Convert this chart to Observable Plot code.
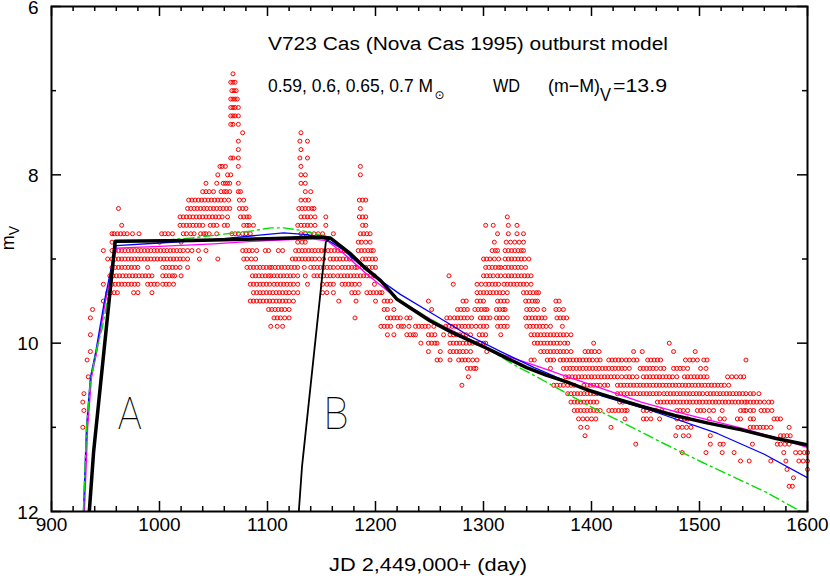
<!DOCTYPE html>
<html><head><meta charset="utf-8">
<script src="https://cdn.jsdelivr.net/npm/d3@7"></script>
<script src="https://cdn.jsdelivr.net/npm/@observablehq/plot@0.6"></script>
<style>body{margin:0;background:#fff}</style>
</head><body><div id="chart"></div>
<script>
// ---- observations: magnitude rows (0.1 mag bins) and the JD-2449000 of each point in that row ----
const obsMag = [6.8,6.9,7.0,7.1,7.2,7.3,7.4,7.5,7.6,7.7,7.8,7.9,8.0,8.1,8.2,8.3,8.4,8.5,8.6,8.7,8.8,8.9,9.0,9.1,9.2,9.3,9.4,9.5,9.6,9.7,9.8,9.9,10.0,10.1,10.2,10.3,10.4,10.5,10.6,10.7,10.8,10.9,11.0,11.1,11.2,11.3,11.4,11.5,11.6,11.7];
const obsJD = [
 [1068],
 [1066,1068,1070],
 [1067,1069,1071],
 [1066,1068,1070,1072],
 [1066,1068,1070,1073],
 [1066,1068,1070,1073],
 [1066,1068,1073],
 [1077,1131],
 [1073,1130,1137],
 [1073,1131],
 [1066,1068,1073,1130,1137],
 [1056,1058,1061,1073,1131,1186],
 [1054,1063,1066,1131,1135,1186],
 [1043,1053,1059,1061,1063,1065,1073,1131,1135],
 [1040,1043,1046,1050,1057,1060,1062,1065,1073,1075,1135,1140],
 [1027,1030,1033,1036,1039,1042,1045,1048,1051,1054,1057,1060,1064,1074,1078,1131,1135,1138,1185,1188,1191],
 [962,1026,1029,1032,1035,1038,1041,1044,1047,1050,1053,1056,1059,1062,1065,1074,1077,1080,1129,1132,1135,1138,1141,1143,1186],
 [1019,1022,1025,1028,1031,1034,1037,1040,1043,1046,1049,1052,1055,1058,1063,1075,1078,1081,1083,1131,1134,1137,1140,1144,1154,1185,1188,1191,1322],
 [965,1019,1022,1025,1028,1031,1034,1037,1040,1047,1050,1053,1060,1063,1078,1081,1083,1087,1128,1131,1134,1137,1140,1144,1154,1188,1191,1302,1309,1323,1331],
 [956,958,961,964,967,970,975,981,1002,1005,1008,1012,1022,1025,1029,1032,1038,1041,1043,1046,1053,1067,1070,1073,1077,1080,1084,1131,1135,1139,1143,1147,1151,1161,1186,1189,1192,1195,1313,1323,1331,1337],
 [956,1000,1020,1128,1132,1135,1184,1187,1191,1195,1310,1321,1325,1329,1333,1337],
 [948,956,959,962,965,968,971,974,977,980,983,986,989,992,995,998,1001,1004,1007,1010,1013,1016,1019,1022,1026,1030,1036,1043,1077,1080,1083,1086,1090,1098,1101,1110,1114,1126,1129,1132,1135,1138,1141,1144,1147,1150,1153,1156,1159,1162,1165,1168,1171,1184,1187,1190,1193,1196,1198,1308,1311,1313,1320,1323,1326,1329,1332,1335,1337],
 [952,956,959,962,965,968,971,974,977,980,983,986,989,992,995,998,1001,1004,1007,1010,1013,1016,1019,1022,1026,1037,1054,1078,1081,1085,1089,1123,1126,1129,1132,1135,1138,1141,1144,1148,1152,1158,1161,1164,1167,1170,1173,1176,1180,1188,1191,1194,1197,1200,1300,1303,1306,1310,1314,1320,1323,1326,1329,1332,1335,1338,1342],
 [956,959,962,965,968,971,974,977,980,989,1003,1006,1009,1012,1015,1019,1026,1081,1084,1087,1090,1093,1096,1099,1102,1104,1107,1110,1113,1116,1119,1122,1125,1128,1134,1140,1143,1146,1149,1152,1155,1158,1161,1165,1169,1172,1175,1178,1181,1183,1188,1191,1194,1197,1200,1302,1305,1308,1311,1314,1316,1320,1323,1326,1329,1332,1335,1339],
 [954,957,960,963,966,969,972,975,978,981,984,987,990,993,1003,1006,1009,1012,1014,1020,1086,1089,1092,1095,1098,1101,1103,1106,1109,1112,1115,1118,1121,1124,1128,1135,1143,1146,1149,1152,1155,1158,1161,1165,1168,1171,1174,1177,1180,1183,1186,1189,1192,1195,1199,1268,1300,1303,1306,1309,1313,1316,1320,1323,1326,1329,1332,1335,1338,1341,1344],
 [948,956,959,962,965,968,971,974,977,980,989,992,995,998,1003,1006,1009,1013,1084,1087,1090,1093,1096,1099,1102,1106,1109,1112,1115,1118,1121,1124,1128,1137,1151,1155,1158,1161,1169,1172,1175,1178,1181,1185,1199,1272,1294,1298,1302,1305,1308,1311,1314,1319,1322,1325,1328,1331,1334,1337,1340,1344],
 [952,955,958,961,976,980,993,1087,1090,1093,1096,1099,1102,1105,1108,1111,1114,1117,1120,1124,1128,1151,1155,1161,1178,1181,1184,1192,1195,1198,1201,1204,1206,1294,1297,1300,1303,1306,1309,1312,1315,1318,1322,1337,1340,1343,1346,1349,1351],
 [948,1084,1087,1090,1093,1096,1099,1102,1105,1108,1111,1114,1117,1120,1124,1166,1182,1200,1208,1211,1214,1249,1281,1284,1294,1297,1300,1313,1316,1319,1322,1339,1342,1345,1348,1350,1367,1370],
 [938,1101,1104,1107,1110,1113,1116,1120,1208,1211,1217,1252,1276,1279,1282,1285,1292,1295,1298,1301,1303,1312,1315,1318,1320,1340,1343,1346,1350,1356,1367,1370,1374],
 [936,1106,1109,1112,1116,1120,1181,1211,1214,1217,1220,1223,1229,1232,1266,1269,1273,1276,1279,1282,1285,1289,1297,1300,1303,1306,1312,1315,1318,1322,1339,1342,1345,1348,1351,1354,1357,1368,1371,1374,1377],
 [1103,1109,1114,1205,1208,1211,1214,1221,1224,1226,1231,1237,1240,1243,1246,1249,1254,1265,1268,1271,1274,1277,1280,1283,1286,1289,1293,1297,1300,1303,1313,1316,1319,1322,1340,1343,1346,1349,1352,1355,1358,1362,1373],
 [936,1211,1217,1229,1232,1235,1237,1249,1252,1255,1263,1269,1272,1275,1278,1281,1284,1288,1296,1299,1302,1316,1344,1347,1350,1353,1356,1359,1362,1365,1368,1371,1374,1377,1381],
 [1242,1249,1252,1255,1257,1269,1272,1275,1278,1281,1284,1287,1290,1294,1297,1300,1302,1347,1350,1353,1356,1359,1362,1365,1368,1371,1375,1378,1402,1472],
 [936,1249,1260,1269,1272,1275,1278,1281,1284,1288,1303,1353,1356,1359,1362,1365,1368,1371,1374,1377,1381,1394,1397,1400,1403,1407,1439,1447,1476,1496],
 [933,1257,1260,1269,1277,1280,1283,1286,1290,1294,1344,1347,1359,1362,1365,1371,1374,1377,1380,1383,1386,1389,1392,1395,1398,1401,1405,1408,1416,1419,1422,1425,1428,1432,1435,1439,1442,1452,1455,1458,1461,1464,1487,1491,1494,1498,1504,1507,1543],
 [1285,1288,1291,1293,1362,1374,1377,1380,1383,1386,1389,1392,1395,1398,1401,1404,1407,1410,1413,1416,1419,1422,1425,1428,1431,1435,1445,1448,1451,1454,1457,1460,1464,1467,1476,1479,1482,1485,1489,1501,1506],
 [934,1286,1376,1379,1382,1385,1388,1391,1394,1397,1400,1403,1406,1409,1412,1415,1418,1421,1424,1428,1432,1435,1438,1442,1448,1451,1454,1457,1460,1463,1466,1469,1472,1475,1479,1486,1489,1492,1495,1498,1501,1504,1507,1526,1530,1534,1538,1541],
 [1280,1365,1368,1371,1374,1378,1381,1384,1393,1396,1399,1402,1405,1408,1412,1415,1424,1427,1430,1433,1436,1439,1442,1445,1448,1451,1454,1457,1460,1463,1466,1469,1472,1475,1478,1481,1484,1487,1490,1493,1496,1499,1502,1505,1508,1511,1514,1517,1520,1523,1527],
 [930,1378,1381,1384,1387,1390,1393,1396,1399,1402,1405,1424,1427,1430,1433,1436,1439,1442,1445,1448,1451,1454,1457,1460,1463,1467,1470,1473,1476,1479,1482,1485,1488,1491,1494,1497,1500,1503,1507,1510,1513,1516,1519,1522,1525,1528,1531,1534,1537,1540,1543,1547,1550,1555],
 [929,1381,1384,1387,1390,1393,1396,1399,1402,1405,1426,1429,1461,1464,1467,1470,1473,1476,1479,1482,1485,1488,1491,1494,1497,1500,1503,1506,1509,1512,1515,1518,1521,1524,1527,1530,1533,1536,1539,1542,1544,1547,1550,1553,1556,1560,1564,1567],
 [930,1384,1387,1390,1393,1396,1399,1402,1405,1408,1416,1419,1422,1425,1428,1431,1433,1448,1451,1455,1460,1465,1479,1482,1485,1489,1498,1501,1504,1509,1513,1521,1538,1541,1543,1547,1550,1557,1560,1563,1567],
 [1388,1392,1396,1400,1404,1431,1448,1451,1455,1463,1479,1483,1486,1489,1509,1519,1523,1535,1538,1547,1550,1569,1572,1575],
 [929,1390,1396,1418,1480,1484,1488,1492,1547,1550,1553,1556,1559,1562,1566,1583],
 [1394,1478,1485,1490,1510,1575,1578,1581,1584],
 [1441,1510,1519,1522,1549,1572,1575,1579,1583],
 [1484,1506,1521,1532,1578,1589,1593,1597,1600],
 [1538,1546,1566,1580,1592,1596,1600],
 [1581,1600],
 [1587],
 [1583,1586]
];

// ---- model light curves (JD-2449000, V magnitude) ----
const modelA_JD = [935,939,959,1030,1100,1150,1158,1177,1190,1205,1220,1232,1250,1269,1286,1303,1322,1340,1358,1377,1395,1415,1446,1477,1508,1539,1570,1600];
const modelA_m  = [12.0,11.29,8.79,8.78,8.76,8.74,8.75,8.94,9.10,9.26,9.48,9.58,9.73,9.86,9.96,10.06,10.18,10.29,10.38,10.46,10.55,10.63,10.75,10.86,10.95,11.03,11.13,11.21];
const modelB_JD = [1129,1132,1154,1158];
const modelB_m  = [12.0,11.46,8.80,8.75];
const blue_JD = [929.6,932.4,936,941,949,956,960,1000,1050,1090,1115,1137,1155,1170,1192,1223,1254,1285,1316,1347,1378,1410,1455,1516,1560,1600];
const blue_m  = [12.0,11.0,10.41,10.1,9.5,9.06,8.84,8.81,8.77,8.72,8.69,8.71,8.77,8.89,9.14,9.42,9.66,9.90,10.10,10.29,10.46,10.63,10.80,11.07,11.32,11.6];
const magenta_JD = [930.5,933.5,937,942,950,957,960,1000,1050,1100,1140,1155,1171,1192,1223,1254,1285,1316,1347,1378,1408,1446,1477,1508,1539,1570,1600];
const magenta_m  = [12.0,11.0,10.41,10.1,9.5,9.06,8.87,8.85,8.82,8.78,8.76,8.78,8.94,9.18,9.50,9.74,9.94,10.13,10.26,10.40,10.53,10.70,10.81,10.91,11.01,11.12,11.24];
const green_JD = [929.5,932.5,936,942,947,954,958,960,1000,1030,1056,1084,1103,1115,1131,1140,1152,1160,1177,1192,1205,1220,1232,1269,1303,1330,1345,1362,1400,1430,1465,1500,1530,1560,1594];
const green_m  = [12.0,11.0,10.45,10.06,9.82,9.34,8.87,8.80,8.78,8.75,8.71,8.67,8.63,8.63,8.66,8.69,8.72,8.76,8.93,9.12,9.27,9.46,9.57,9.85,10.06,10.27,10.37,10.49,10.76,10.95,11.18,11.40,11.58,11.76,12.0];

// ---- axis ticks ----
const xMajor = [900,1000,1100,1200,1300,1400,1500,1600];
const xMinor = [920,940,960,980,1020,1040,1060,1080,1120,1140,1160,1180,1220,1240,1260,1280,1320,1340,1360,1380,1420,1440,1460,1480,1520,1540,1560,1580];
const yMajor = [6,8,10,12];
const yMinor = [7,9,11];

const obs = obsMag.flatMap((m, i) => obsJD[i].map(jd => ({jd, m})));
const series = (xs, ys) => xs.map((jd, i) => ({jd, m: ys[i]}));

const W = 830, H = 576, ML = 51, MR = 23, MT = 6, MB = 65;
const PW = W - ML - MR, PH = H - MT - MB;
const FONT = "'Liberation Sans', Arial, Helvetica, sans-serif";

const plot = Plot.plot({
  width: W, height: H,
  marginLeft: ML, marginRight: MR, marginTop: MT, marginBottom: MB,
  x: {domain: [900, 1600], axis: null},
  y: {domain: [6, 12], reverse: true, axis: null},
  style: {fontFamily: FONT, background: "white", color: "black"},
  marks: [
    Plot.dot(obs, {x: "jd", y: "m", r: 2, stroke: "#ff0000", strokeWidth: 1, fill: "none"}),
    Plot.line(series(magenta_JD, magenta_m), {x: "jd", y: "m", stroke: "#ff00ff", strokeWidth: 1.3, clip: true}),
    Plot.line(series(blue_JD, blue_m), {x: "jd", y: "m", stroke: "#0000ff", strokeWidth: 1.3, clip: true}),
    Plot.line(series(green_JD, green_m), {x: "jd", y: "m", stroke: "#00e000", strokeWidth: 1.4, strokeDasharray: "10,4,2,4", clip: true}),
    Plot.line(series(modelB_JD, modelB_m), {x: "jd", y: "m", stroke: "black", strokeWidth: 1.8, clip: true}),
    Plot.line(series(modelA_JD, modelA_m), {x: "jd", y: "m", stroke: "black", strokeWidth: 3.5, clip: true}),
    // inward ticks, all four sides
    Plot.tickX(xMajor, {x: d => d, insetTop: PH - 10, stroke: "black", strokeWidth: 1.5}),
    Plot.tickX(xMinor, {x: d => d, insetTop: PH - 5, stroke: "black", strokeWidth: 1.5}),
    Plot.tickX(xMajor, {x: d => d, insetBottom: PH - 10, stroke: "black", strokeWidth: 1.5}),
    Plot.tickX(xMinor, {x: d => d, insetBottom: PH - 5, stroke: "black", strokeWidth: 1.5}),
    Plot.tickY(yMajor, {y: d => d, insetRight: PW - 10, stroke: "black", strokeWidth: 1.5}),
    Plot.tickY(yMinor, {y: d => d, insetRight: PW - 5, stroke: "black", strokeWidth: 1.5}),
    Plot.tickY(yMajor, {y: d => d, insetLeft: PW - 10, stroke: "black", strokeWidth: 1.5}),
    Plot.tickY(yMinor, {y: d => d, insetLeft: PW - 5, stroke: "black", strokeWidth: 1.5}),
    Plot.frame({stroke: "black", strokeWidth: 2}),
    Plot.text(xMajor, {x: d => d, frameAnchor: "bottom", dy: 19, text: d => String(d), fontSize: 19, fill: "black"}),
    Plot.text(yMajor, {y: d => d, frameAnchor: "left", dx: -13, dy: 1, textAnchor: "end", text: d => String(d), fontSize: 19, fill: "black"})
  ]
});
document.getElementById("chart").appendChild(plot);

// ---- annotations ----
const svg = d3.select(plot);
const sx = plot.scale("x"), sy = plot.scale("y");
const add = (x, y, str, opts = {}) => {
  const t = svg.append("text").attr("x", x).attr("y", y).text(str)
    .attr("font-family", opts.family || FONT).attr("font-size", opts.size || 18)
    .attr("fill", "black").attr("text-anchor", opts.anchor || "start");
  if (opts.len) t.attr("textLength", opts.len).attr("lengthAdjust", opts.adj || "spacingAndGlyphs");
  if (opts.weight) t.attr("font-weight", opts.weight);
  return t;
};
add(268, 50, "V723 Cas (Nova Cas 1995) outburst model", {len: 400});
add(268, 92, "0.59, 0.6, 0.65, 0.7 M", {len: 165});
add(434.5, 99, "\u2299", {family: "'DejaVu Sans', sans-serif", size: 12});
add(493, 92, "WD", {len: 27});
add(548, 92, "(m\u2212M)", {len: 52});
add(600, 101, "V", {len: 11});
add(613, 92, "=13.9", {len: 54});
add(428, 571, "JD 2,449,000+ (day)", {anchor: "middle", len: 198});
// y label rotated
const yl = svg.append("text").attr("transform", "translate(14,238) rotate(-90)")
  .attr("text-anchor", "middle").attr("font-family", FONT).attr("font-size", 18).attr("fill", "black");
yl.append("tspan").text("m");
yl.append("tspan").attr("dy", 5).attr("font-size", 14).text("V");
// model labels
add(sx.apply(973), sy.apply(11.02), "A", {anchor: "middle", size: 44, family: "Roboto, 'Open Sans', sans-serif", weight: 100, len: 24});
add(sx.apply(1164), sy.apply(11.02), "B", {anchor: "middle", size: 44, family: "Roboto, 'Open Sans', sans-serif", weight: 100, len: 25});
</script>
</body></html>
